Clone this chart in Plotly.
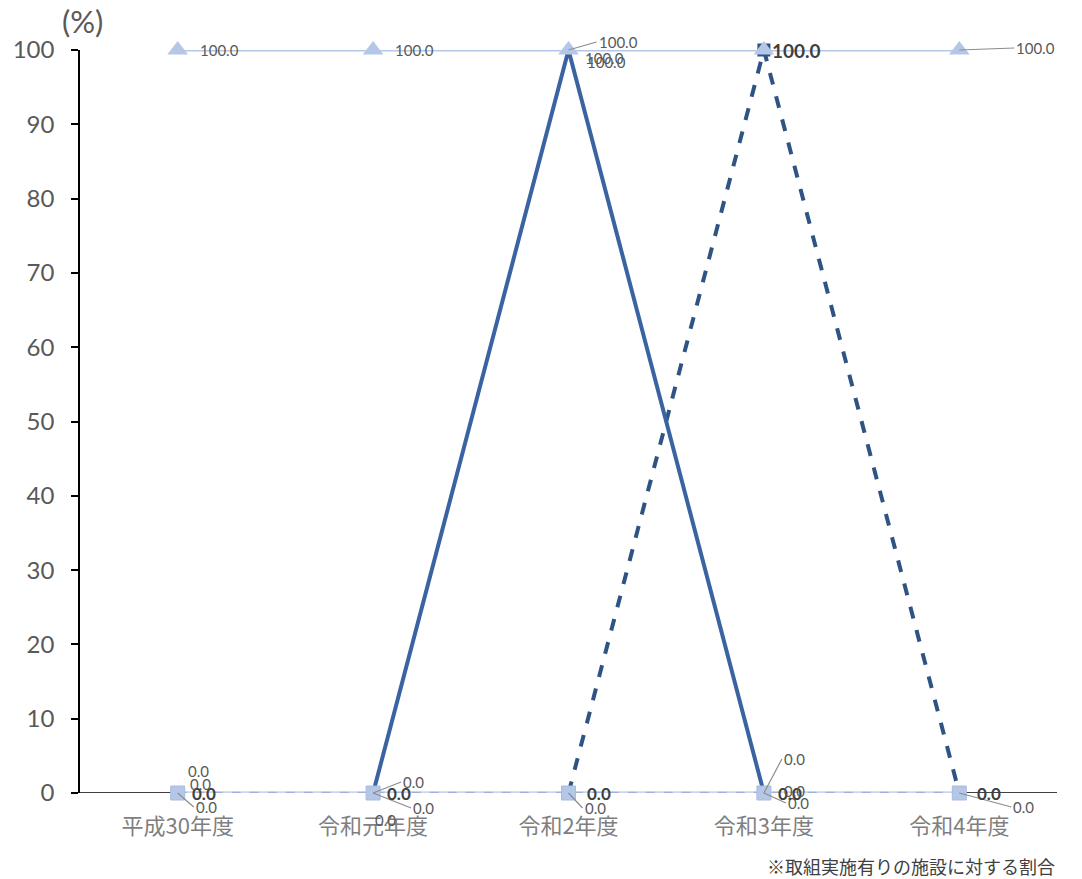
import plotly.graph_objects as go

categories = ["平成30年度", "令和元年度", "令和2年度", "令和3年度", "令和4年度"]
series_all = [100.0, 100.0, 100.0, 100.0, 100.0]      # triangles, light solid
series_zero = [0.0, 0.0, 0.0, 0.0, 0.0]               # squares, light dashed
series_solid = [None, 0.0, 100.0, 0.0, None]          # dark solid
series_dashed = [None, None, 0.0, 100.0, 0.0]         # dark dashed
y_ticks = [0, 10, 20, 30, 40, 50, 60, 70, 80, 90, 100]

NUM_FONT = "Lato, Noto Sans CJK JP, sans-serif"
JP_FONT = "Noto Sans CJK JP, Lato, sans-serif"
GRAY = "#595959"
DARK = "#404040"
LIGHT = "#B4C7E7"

fig = go.Figure()

fig.add_trace(go.Scatter(x=categories, y=series_zero, mode="lines",
                         line=dict(color="#CDD7EC", width=3.5), hoverinfo="skip",
                         showlegend=False, cliponaxis=False))
fig.add_trace(go.Scatter(x=categories, y=series_dashed, mode="lines+markers",
                         line=dict(color="#2E5484", width=4, dash="dash"),
                         marker=dict(symbol="square", size=13, color="#2E5484"),
                         showlegend=False, connectgaps=False, cliponaxis=False))
fig.add_trace(go.Scatter(x=categories, y=series_solid, mode="lines",
                         line=dict(color="#3A64A1", width=4),
                         showlegend=False, connectgaps=False, cliponaxis=False))
fig.add_trace(go.Scatter(x=categories, y=series_zero, mode="lines+markers",
                         line=dict(color="#9DB3DD", width=2.5, dash="dash"),
                         marker=dict(symbol="square", size=14, color=LIGHT,
                                     line=dict(color="#A9BCE0", width=1)),
                         showlegend=False, cliponaxis=False))
fig.add_trace(go.Scatter(x=categories, y=series_all, mode="lines+markers",
                         line=dict(color=LIGHT, width=3),
                         marker=dict(symbol="triangle-up", size=18, color=LIGHT),
                         showlegend=False, cliponaxis=False))

annotations = []

def add_label(xc, val, ax, ay, color=GRAY, bold=False, arrow=False, size=15):
    txt = f"{val:.1f}"
    if bold:
        txt = f"<b>{txt}</b>"
    annotations.append(dict(
        x=xc, y=val, xref="x", yref="y", text=txt, showarrow=True,
        arrowhead=0, arrowwidth=1.2,
        arrowcolor="#8C8C8C" if arrow else "rgba(0,0,0,0)",
        ax=ax, ay=ay, xanchor="left", yanchor="middle",
        font=dict(family=NUM_FONT, size=size, color=color)))

# triangle series labels
tri_offsets = [(20, 0, False), (20, 0, False), (28, -8, True), (6, 0, False), (55, -2, True)]
for c, v, (ax, ay, arr) in zip(categories, series_all, tri_offsets):
    if c == "令和3年度":
        add_label(c, v, ax, ay, color=DARK, bold=True, size=19)
    else:
        add_label(c, v, ax, ay, arrow=arr)
# extra overlapping labels at peak of solid series
for c, v in zip(categories, series_solid):
    if v is not None and v > 0:
        add_label(c, v, 14, 8)
        add_label(c, v, 16, 12)

# light zero series labels (below right with leader)
zero_offsets = [(16, 14), (38, 15), (14, 15), (22, 10), (52, 14)]
for c, v, (ax, ay) in zip(categories, series_zero, zero_offsets):
    add_label(c, v, ax, ay, arrow=True)

# dark solid series zero labels (bold, right)
for c, v in zip(categories, series_solid):
    if v is not None and v == 0:
        add_label(c, v, 12, 0, color=DARK, bold=True, size=17)
# dark dashed series zero labels
for c, v in zip(categories, series_dashed):
    if v is not None and v == 0:
        add_label(c, v, 16, 0, color=DARK, bold=True, size=17)
add_label(categories[0], series_zero[0], 12, 0, color=DARK, bold=True, size=17)
add_label(categories[0], series_zero[0], 8, -22)
add_label(categories[0], series_zero[0], 10, -9)
add_label(categories[1], series_zero[1], 28, -11, arrow=True)
add_label(categories[1], series_zero[1], 0, 27)
add_label(categories[3], series_zero[3], 18, -34, arrow=True)
add_label(categories[3], series_zero[3], 18, -2)

annotations.append(dict(x=0.0, y=1.0, xref="paper", yref="paper", text="(%)",
                        showarrow=False, xanchor="left", yanchor="bottom",
                        xshift=-20, yshift=8,
                        font=dict(family=NUM_FONT, size=31, color=GRAY)))
annotations.append(dict(x=1.0, y=0, xref="paper", yref="paper",
                        text="※取組実施有りの施設に対する割合",
                        showarrow=False, xanchor="right", yanchor="top", yshift=-58,
                        font=dict(family=JP_FONT, size=18, color="#404040")))

fig.update_layout(
    width=1082, height=879,
    margin=dict(l=80, r=25, t=50, b=86),
    plot_bgcolor="white", paper_bgcolor="white",
    annotations=annotations,
    xaxis=dict(type="category", range=[-0.5, 4.5], showgrid=False, zeroline=False,
               showline=False, ticks="", ticklabelstandoff=18,
               tickfont=dict(family=JP_FONT, size=22, color="#7F7F7F")),
    yaxis=dict(range=[0, 100], tickvals=y_ticks, showgrid=False, zeroline=False,
               showline=True, linecolor="black", linewidth=1.5,
               ticks="outside", ticklen=7, tickcolor="black", tickwidth=1.5,
               ticklabelstandoff=12,
               tickfont=dict(family=NUM_FONT, size=24, color=GRAY)),
    shapes=[dict(type="line", xref="paper", yref="y", x0=0, x1=1, y0=0, y1=0,
                 line=dict(color="black", width=1.5), layer="below")],
)

fig.write_html("out.html")
